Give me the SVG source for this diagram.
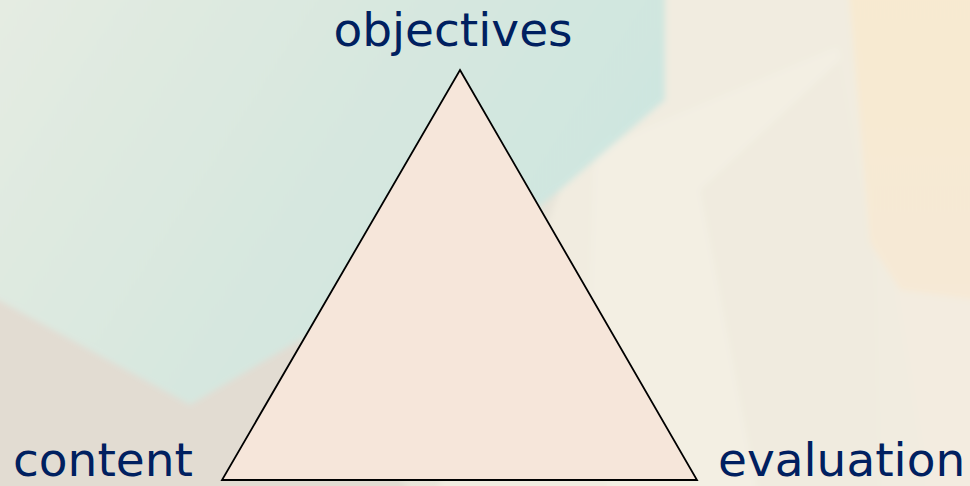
<svg xmlns="http://www.w3.org/2000/svg" width="970" height="486" viewBox="0 0 970 486">
  <defs>
    <linearGradient id="base" x1="0" y1="0" x2="1" y2="1">
      <stop offset="0" stop-color="#e4e2d8"/>
      <stop offset="1" stop-color="#ece6da"/>
    </linearGradient>
    <linearGradient id="teal" x1="0" y1="0" x2="1" y2="0.4">
      <stop offset="0" stop-color="#e6ece2"/>
      <stop offset="0.6" stop-color="#d6e7df"/>
      <stop offset="1" stop-color="#cde6e0"/>
    </linearGradient>
    <linearGradient id="warm" x1="0" y1="0" x2="0" y2="1">
      <stop offset="0" stop-color="#f8ead0"/>
      <stop offset="1" stop-color="#f6e9d6"/>
    </linearGradient>
    <filter id="soft" filterUnits="userSpaceOnUse" x="-50" y="-50" width="1070" height="586">
      <feGaussianBlur stdDeviation="3"/>
    </filter>
    <style>
      .lbl { font-family: "DejaVu Sans", Verdana, sans-serif; font-size: 47px; fill: #002060; }
      .tri { fill: #f6e6da; stroke: #000; stroke-width: 1.8; stroke-linejoin: miter; }
    </style>
  </defs>

  <g id="background">
    <rect x="0" y="0" width="970" height="486" fill="url(#base)"/>
    <g filter="url(#soft)">
      <polygon points="600,-20 990,-20 990,506 430,506 520,300 560,190 665,100 665,-20" fill="#f1ece0"/>
      <polygon points="595,150 838,47 870,230 830,506 610,506 590,300" fill="#f3efe3"/>
      <polygon points="700,190 840,60 875,260 880,506 760,506" fill="#f0ebdf"/>
      <polygon points="848,-20 990,-20 990,302 900,290 870,243" fill="url(#warm)"/>
      <polygon points="895,290 990,302 990,506 930,506" fill="#f3ece0"/>
      <polygon points="-20,-20 665,-20 665,100 560,190 470,262 300,340 190,405 -20,290" fill="url(#teal)"/>
      <polygon points="-20,290 190,405 300,340 420,506 -20,506" fill="#e2dcd2"/>
    </g>
  </g>

  <g id="triangle">
    <polygon class="tri" points="460,70 697,480 222,480"/>
  </g>

  <g id="node-objectives">
    <text class="lbl" x="453" y="46" text-anchor="middle">objectives</text>
  </g>
  <g id="node-content">
    <text class="lbl" x="13" y="476">content</text>
  </g>
  <g id="node-evaluation">
    <text class="lbl" x="718" y="476">evaluation</text>
  </g>
  <g id="connectors"/>
</svg>
